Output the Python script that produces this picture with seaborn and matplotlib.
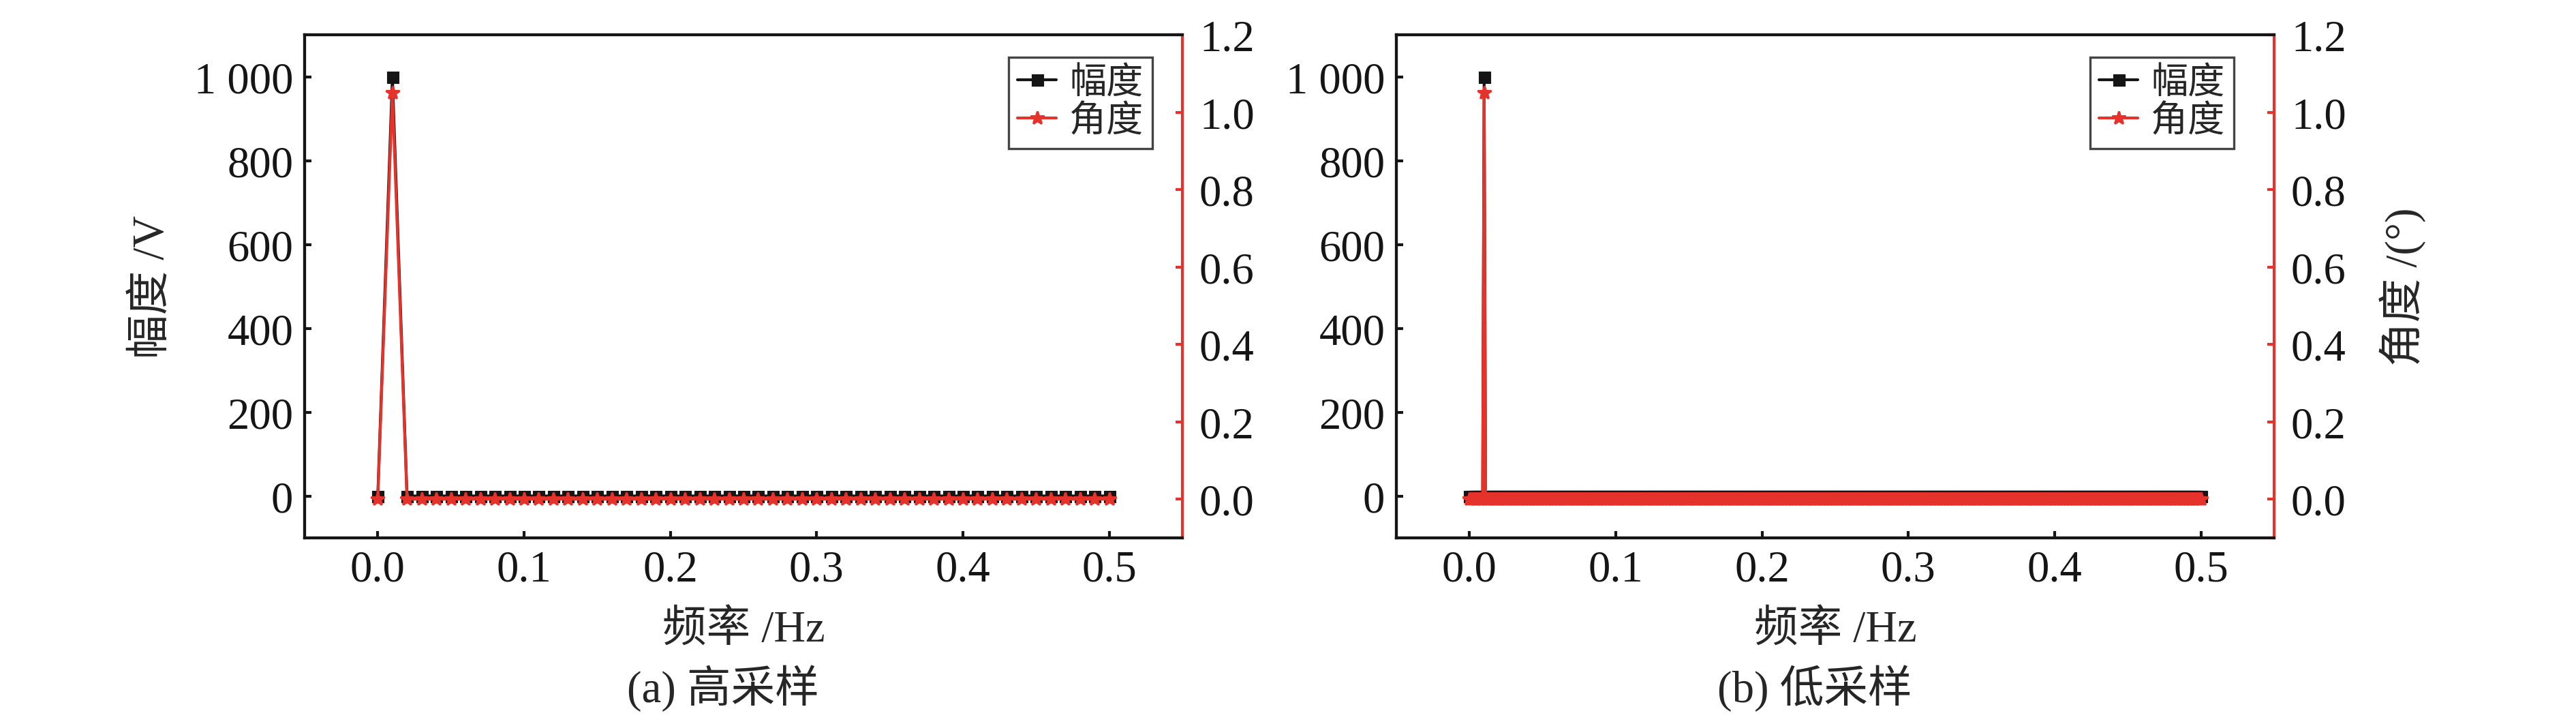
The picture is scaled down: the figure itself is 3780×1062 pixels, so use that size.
import numpy as np
import matplotlib
matplotlib.use("Agg")
import matplotlib.pyplot as plt
from matplotlib.ticker import FuncFormatter
import seaborn as sns

# ─── Data ─────────────────────────────────────────────────────────────────────
# (a) high sampling: 0.01 Hz bins
freq_hi  = np.round(np.arange(0, 0.5001, 0.01), 3)
amp_hi   = [0.0, 1000.0] + [0.0] * 49
angle_hi = [0.0, 1.05] + [0.0] * 49

# (b) low sampling: 0.001 Hz bins
freq_lo  = np.round(np.arange(0, 0.5001, 0.001), 4)
amp_lo   = [0.0] * 10 + [1000.0] + [0.0] * 490
angle_lo = [0.0] * 10 + [1.05] + [0.0] * 490

PANELS   = [(freq_hi, amp_hi, angle_hi, "(a) 高采样"),
            (freq_lo, amp_lo, angle_lo, "(b) 低采样")]
X_TICKS  = [0.0, 0.1, 0.2, 0.3, 0.4, 0.5]
Y_TICKS  = [0, 200, 400, 600, 800, 1000]
Y2_TICKS = [0.0, 0.2, 0.4, 0.6, 0.8, 1.0, 1.2]

BLACK = "#151515"
RED   = "#e5322b"
FS    = 15.5

# ─── Style ────────────────────────────────────────────────────────────────────
sns.set_theme(style="ticks")
plt.rcParams["font.family"] = ["Liberation Serif", "Noto Sans CJK SC", "DejaVu Sans"]
plt.rcParams["axes.unicode_minus"] = False
plt.rcParams["font.size"] = FS

fig = plt.figure(figsize=(12.6, 3.5433), dpi=300)
lefts = [447 / 3780, 2049 / 3780]
bottom, width, height = (1063 - 790) / 1063, 1288 / 3780, 738 / 1063
legend_x = [0.9658, 0.9542]

for i, (freq, amp, ang, caption) in enumerate(PANELS):
    ax = fig.add_axes([lefts[i], bottom, width, height])
    ax2 = ax.twinx()

    sns.lineplot(x=freq, y=amp, ax=ax, color=BLACK, marker="s", markersize=3.6,
                 markeredgecolor=BLACK, linewidth=1.0, label="幅度", legend=False)
    sns.lineplot(x=freq, y=ang, ax=ax2, color=RED, marker="*", markersize=5,
                 markeredgecolor=RED, linewidth=1.0, label="角度", legend=False)

    ax.set_xlim(-0.05, 0.55)
    ax.set_ylim(-100, 1100)
    ax2.set_ylim(-0.1, 1.2)
    ax.set_xticks(X_TICKS)
    ax.set_yticks(Y_TICKS)
    ax2.set_yticks(Y2_TICKS)
    ax.xaxis.set_major_formatter(FuncFormatter(lambda v, p: f"{v:.1f}"))
    ax.yaxis.set_major_formatter(
        FuncFormatter(lambda v, p: f"{int(v):,}".replace(",", " ")))
    ax2.yaxis.set_major_formatter(FuncFormatter(lambda v, p: f"{v:.1f}"))

    for a in (ax, ax2):
        for s in a.spines.values():
            s.set_linewidth(1.0)
            s.set_color(BLACK)
    ax2.spines["right"].set_color(RED)
    ax.spines["right"].set_visible(False)

    ax.tick_params(direction="in", length=2.4, width=1.0, colors=BLACK,
                   labelsize=FS, pad=4, top=False, right=False)
    ax2.tick_params(axis="y", direction="in", length=2.4, width=1.0,
                    color=RED, labelcolor=BLACK, labelsize=FS, pad=6)

    ax.set_xlabel("频率 /Hz", fontsize=FS, labelpad=7)
    ax.set_ylabel("")
    ax2.set_ylabel("")
    if i == 0:
        ax.set_ylabel("幅度 /V", fontsize=FS)
        ax.yaxis.set_label_coords(-0.15, 0.5)
    else:
        ax2.set_ylabel("角度 /(°)", fontsize=FS, rotation=90)
        ax2.yaxis.set_label_coords(1.12, 0.5)

    h1, l1 = ax.get_legend_handles_labels()
    h2, l2 = ax2.get_legend_handles_labels()
    leg = ax2.legend(h1 + h2, l1 + l2, loc="upper right",
                     bbox_to_anchor=(legend_x[i], 0.955), borderaxespad=0,
                     fontsize=13, frameon=True, fancybox=False,
                     handlelength=1.05, handletextpad=0.35,
                     labelspacing=0.1, borderpad=0.25)
    leg.get_frame().set_edgecolor(BLACK)
    leg.get_frame().set_linewidth(0.8)

    fig.text(lefts[i] + width / 2 - 0.008, 0.05, caption, ha="center",
             va="center", fontsize=FS)

fig.savefig("out.png", dpi=300, facecolor="white")
